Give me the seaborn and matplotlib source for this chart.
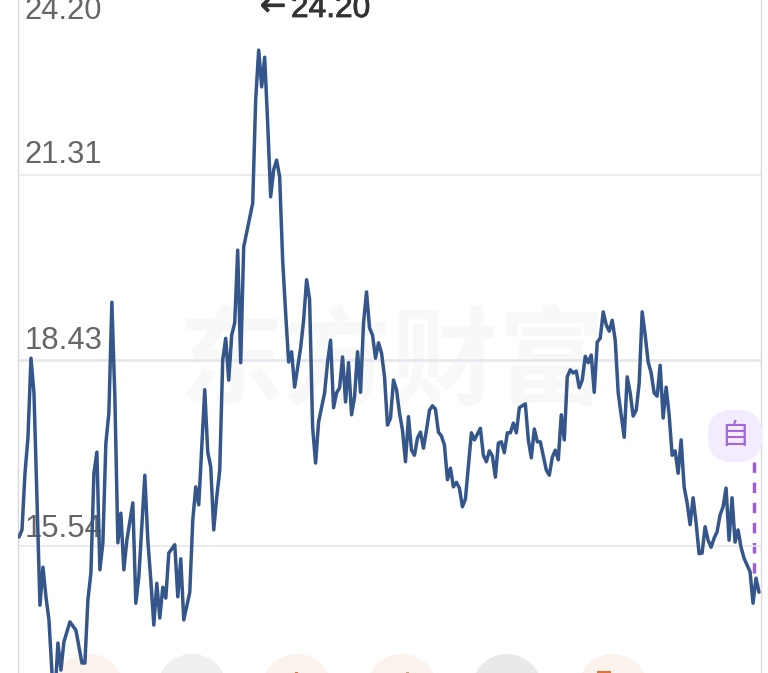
import matplotlib
matplotlib.use("Agg")
import matplotlib.pyplot as plt
import matplotlib.patheffects as pe
from matplotlib.patches import Circle, FancyBboxPatch, Rectangle
import seaborn as sns

days = [
    0, 1, 2, 3, 4, 5, 7, 8, 9, 10, 11, 12, 13, 14, 15, 17, 19, 21, 22, 23,
    24, 25, 26, 27, 28, 29, 30, 31, 32, 33, 34, 35, 36, 38, 39, 40, 42, 43, 44, 45,
    46, 47, 48, 49, 50, 52, 53, 54, 55, 57, 58, 59, 60, 61, 62, 63, 64, 65, 66, 67,
    68, 69, 70, 71, 72, 73, 74, 75, 78, 79, 80, 81, 82, 83, 84, 85, 86, 87, 88, 89,
    90, 91, 92, 94, 95, 96, 97, 98, 99, 100, 102, 103, 104, 105, 106, 107, 108, 109, 110, 111,
    112, 113, 114, 115, 116, 117, 118, 119, 120, 121, 122, 123, 124, 125, 126, 127, 128, 129, 130, 131,
    132, 133, 134, 135, 136, 137, 138, 139, 140, 141, 142, 143, 144, 145, 146, 147, 148, 149, 151, 152,
    154, 155, 156, 157, 158, 159, 160, 161, 162, 163, 164, 165, 166, 167, 169, 170, 171, 172, 173, 174,
    176, 177, 178, 179, 180, 181, 182, 183, 184, 185, 186, 187, 188, 189, 190, 191, 192, 193, 194, 195,
    196, 197, 198, 199, 200, 202, 203, 204, 205, 206, 207, 208, 209, 210, 211, 212, 213, 214, 215, 216,
    217, 218, 219, 220, 221, 222, 223, 224, 225, 226, 227, 228, 229, 230, 231, 232, 233, 234, 235, 236,
    237, 238, 239, 240, 241, 242, 244, 245, 246, 247,
]
prices = [
    15.68, 15.79, 16.67, 17.23, 18.46, 17.92, 14.62, 15.21, 14.75, 14.39, 13.56, 13.22, 14.03, 13.61, 14.05, 14.36, 14.23, 13.72, 13.72, 14.70,
    15.12, 16.67, 17.00, 15.17, 15.59, 17.14, 17.61, 19.33, 17.86, 15.59, 16.05, 15.17, 15.63, 16.21, 14.65, 15.06, 16.64, 15.63, 15.01, 14.31,
    14.96, 14.42, 14.90, 14.73, 15.43, 15.56, 14.75, 15.34, 14.39, 14.82, 15.94, 16.46, 16.18, 17.08, 17.97, 17.00, 16.77, 15.79, 16.30, 16.72,
    18.43, 18.77, 18.12, 18.82, 19.01, 20.14, 18.39, 20.19, 20.87, 22.48, 23.25, 22.68, 23.14, 22.12, 20.97, 21.39, 21.54, 21.28, 19.99, 19.16,
    18.40, 18.56, 18.01, 18.62, 19.05, 19.68, 19.37, 17.39, 16.83, 17.47, 17.92, 18.40, 18.74, 17.69, 17.92, 18.00, 18.48, 17.78, 18.39, 17.58,
    17.86, 18.56, 17.93, 19.01, 19.49, 18.93, 18.82, 18.46, 18.70, 18.54, 18.17, 17.42, 17.53, 18.12, 17.97, 17.61, 17.34, 16.85, 17.55, 17.03,
    16.95, 17.22, 17.31, 17.06, 17.34, 17.65, 17.72, 17.67, 17.31, 17.25, 17.11, 16.57, 16.75, 16.46, 16.53, 16.44, 16.15, 16.27, 17.30, 17.19,
    17.37, 16.95, 16.85, 17.02, 16.94, 16.61, 17.14, 17.16, 16.99, 17.30, 17.30, 17.45, 17.30, 17.69, 17.75, 17.19, 16.91, 17.36, 17.16, 17.16,
    16.72, 16.64, 16.92, 17.03, 16.88, 17.58, 17.19, 18.17, 18.28, 18.23, 18.26, 18.00, 18.12, 18.49, 18.39, 18.51, 17.93, 18.71, 18.77, 19.18,
    18.98, 18.88, 19.05, 18.74, 17.92, 17.23, 18.17, 17.92, 17.56, 17.65, 18.07, 19.18, 18.82, 18.40, 18.23, 17.92, 17.87, 18.35, 17.53, 18.01,
    17.58, 16.95, 17.02, 16.67, 17.19, 16.46, 16.21, 15.87, 16.29, 15.90, 15.42, 15.43, 15.84, 15.63, 15.52, 15.66, 15.76, 16.02, 16.15, 16.44,
    15.63, 16.29, 15.60, 15.79, 15.52, 15.35, 15.14, 14.65, 15.04, 14.82,
]
grid_levels = [21.31, 18.43, 15.54]
grid_widths = [1.1, 1.9, 1.1]
tick_labels = ["24.20", "21.31", "18.43", "15.54"]
tick_baselines = [19, 163, 349, 537]
high_value = "24.20"
watermark = "东方财富"
button_x = [89, 192, 297, 402, 507, 613]
button_colors = ["#fcf2ec", "#efefef", "#fcf2ec", "#fcf2ec", "#e9e9e9", "#fcf2ec"]

W, H = 768, 673

sns.set_style("white")
plt.rcParams["font.family"] = ["Liberation Sans", "DejaVu Sans"]

fig = plt.figure(figsize=(W / 100, H / 100), dpi=100)

# pixel overlay for the app decorations, sits under the chart
bg = fig.add_axes([0, 0, 1, 1], zorder=0)
bg.set_xlim(0, W)
bg.set_ylim(H, 0)
bg.axis("off")

bg.text(392, 365, watermark, color="#f8f8f9", fontsize=77, fontweight="bold",
        family=["Noto Sans CJK SC", "DejaVu Sans"], ha="center", va="center")

for bx, col in zip(button_x, button_colors):
    bg.add_patch(Circle((bx, 689), 35, color=col, lw=0))
bg.add_patch(Rectangle((597, 671), 14, 3, color="#e0733a", lw=0))
bg.add_patch(Rectangle((295, 671.5), 3, 2, color="#e0733a", lw=0))
bg.add_patch(Rectangle((406, 672), 3, 2, color="#d9a080", lw=0))

for lab, base in zip(tick_labels, tick_baselines):
    bg.text(25, base, lab, color="#666666", fontsize=22.3, ha="left", va="baseline")

# high marker: arrow glyph and value
heavy = [pe.withStroke(linewidth=0.8, foreground="#333333")]
bg.text(260, 15, "\u2190", color="#333333", fontsize=22.3, family=["DejaVu Sans"],
        ha="left", va="baseline", path_effects=heavy)
bg.text(291, 17, high_value, color="#333333", fontsize=22.8, ha="left", va="baseline",
        path_effects=[pe.withStroke(linewidth=0.6, foreground="#333333")])

bg.plot([754, 754], [462, 580], color="#9c5fd8", lw=2.5, dashes=(3, 2.8))

# price chart
ax = fig.add_axes([18 / W, 0, (761 - 18) / W, 1], zorder=1)
ax.patch.set_visible(False)
for lev, lw in zip(grid_levels, grid_widths):
    ax.axhline(lev, color="#e6e6ef", lw=lw, zorder=1)
sns.lineplot(x=days, y=prices, ax=ax, color="#34568b", linewidth=2.5, estimator=None, zorder=3)
ax.set_xlim(-0.33, 247.66)
ax.set_ylim(13.565, 24.03)
ax.set_xticks([])
ax.set_yticks([])
for side in ["top", "bottom"]:
    ax.spines[side].set_visible(False)
for side in ["left", "right"]:
    ax.spines[side].set_color("#d9d9de")
    ax.spines[side].set_linewidth(1.0)

# the "自" badge goes over the chart edge
fg = fig.add_axes([0, 0, 1, 1], zorder=2)
fg.set_xlim(0, W)
fg.set_ylim(H, 0)
fg.axis("off")
fg.add_patch(FancyBboxPatch((719, 421), 32, 30, boxstyle="round,pad=0,rounding_size=11",
                            mutation_aspect=1, fc="#f3ecfe", ec="#f3ecfe", lw=22 * 0.72))
fg.text(734.5, 436.5, "自", color="#a268dc", fontsize=21,
        family=["Noto Sans CJK SC", "DejaVu Sans"], ha="center", va="center")

fig.savefig("out.png", dpi=100)
